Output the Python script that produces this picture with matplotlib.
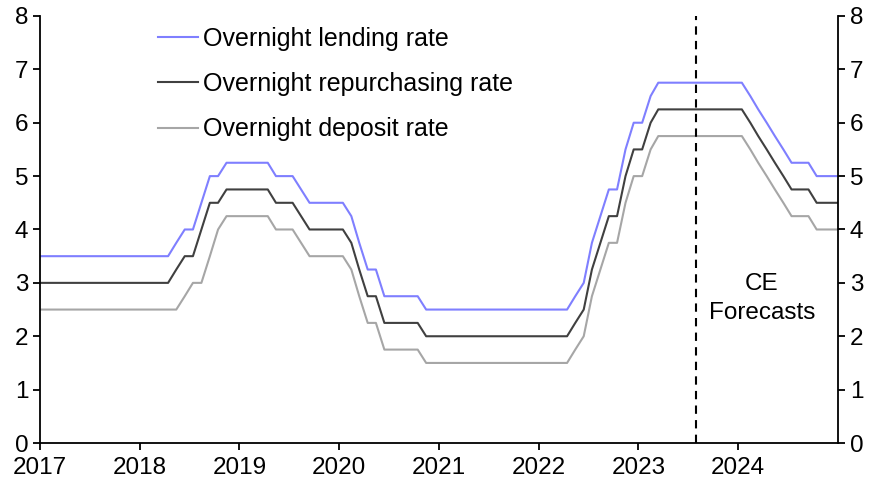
import matplotlib
matplotlib.use("Agg")
import matplotlib.pyplot as plt
import matplotlib.dates as mdates
import pandas as pd

plt.rcParams['font.family'] = ['Liberation Sans', 'DejaVu Sans']

# Monthly values, Dec 2016 .. Jan 2025
repo = [3.0,
        3.0, 3.0, 3.0, 3.0, 3.0, 3.0, 3.0, 3.0, 3.0, 3.0, 3.0, 3.0,            # 2017
        3.0, 3.0, 3.0, 3.0, 3.25, 3.5, 3.5, 4.0, 4.5, 4.5, 4.75, 4.75,         # 2018
        4.75, 4.75, 4.75, 4.75, 4.5, 4.5, 4.5, 4.25, 4.0, 4.0, 4.0, 4.0,       # 2019
        4.0, 3.75, 3.25, 2.75, 2.75, 2.25, 2.25, 2.25, 2.25, 2.25, 2.0, 2.0,   # 2020
        2.0, 2.0, 2.0, 2.0, 2.0, 2.0, 2.0, 2.0, 2.0, 2.0, 2.0, 2.0,            # 2021
        2.0, 2.0, 2.0, 2.0, 2.25, 2.5, 3.25, 3.75, 4.25, 4.25, 5.0, 5.5,       # 2022
        5.5, 6.0, 6.25, 6.25, 6.25, 6.25, 6.25, 6.25, 6.25, 6.25, 6.25, 6.25,  # 2023
        6.25, 6.0, 5.75, 5.5, 5.25, 5.0, 4.75, 4.75, 4.75, 4.5, 4.5, 4.5,      # 2024
        4.5]
lending = [3.5,
           3.5, 3.5, 3.5, 3.5, 3.5, 3.5, 3.5, 3.5, 3.5, 3.5, 3.5, 3.5,
           3.5, 3.5, 3.5, 3.5, 3.75, 4.0, 4.0, 4.5, 5.0, 5.0, 5.25, 5.25,
           5.25, 5.25, 5.25, 5.25, 5.0, 5.0, 5.0, 4.75, 4.5, 4.5, 4.5, 4.5,
           4.5, 4.25, 3.75, 3.25, 3.25, 2.75, 2.75, 2.75, 2.75, 2.75, 2.5, 2.5,
           2.5, 2.5, 2.5, 2.5, 2.5, 2.5, 2.5, 2.5, 2.5, 2.5, 2.5, 2.5,
           2.5, 2.5, 2.5, 2.5, 2.75, 3.0, 3.75, 4.25, 4.75, 4.75, 5.5, 6.0,
           6.0, 6.5, 6.75, 6.75, 6.75, 6.75, 6.75, 6.75, 6.75, 6.75, 6.75, 6.75,
           6.75, 6.5, 6.25, 6.0, 5.75, 5.5, 5.25, 5.25, 5.25, 5.0, 5.0, 5.0,
           5.0]
deposit = [2.5,
           2.5, 2.5, 2.5, 2.5, 2.5, 2.5, 2.5, 2.5, 2.5, 2.5, 2.5, 2.5,
           2.5, 2.5, 2.5, 2.5, 2.5, 2.75, 3.0, 3.0, 3.5, 4.0, 4.25, 4.25,
           4.25, 4.25, 4.25, 4.25, 4.0, 4.0, 4.0, 3.75, 3.5, 3.5, 3.5, 3.5,
           3.5, 3.25, 2.75, 2.25, 2.25, 1.75, 1.75, 1.75, 1.75, 1.75, 1.5, 1.5,
           1.5, 1.5, 1.5, 1.5, 1.5, 1.5, 1.5, 1.5, 1.5, 1.5, 1.5, 1.5,
           1.5, 1.5, 1.5, 1.5, 1.75, 2.0, 2.75, 3.25, 3.75, 3.75, 4.5, 5.0,
           5.0, 5.5, 5.75, 5.75, 5.75, 5.75, 5.75, 5.75, 5.75, 5.75, 5.75, 5.75,
           5.75, 5.5, 5.25, 5.0, 4.75, 4.5, 4.25, 4.25, 4.25, 4.0, 4.0, 4.0,
           4.0]
labels = ["Overnight lending rate", "Overnight repurchasing rate", "Overnight deposit rate"]
colors = ["#7f7fff", "#404040", "#a6a6a6"]
year_ticks = list(range(2017, 2025))
y_ticks = list(range(0, 9))
forecast_start = "2023-08-01"

dates = pd.date_range("2016-12-01", periods=len(repo), freq="MS") + pd.Timedelta(days=14)

fig = plt.figure(figsize=(8.89, 4.99), dpi=100)
ax = fig.add_axes([0.045, 0.1122, 0.8976, 0.8558])

for vals, lab, col in zip([lending, repo, deposit], labels, colors):
    ax.plot(dates, vals, color=col, lw=1.5, label=lab)

ax.axvline(pd.Timestamp(forecast_start), color="black", lw=1.5, ls=(0, (4, 3)))
ax.text(pd.Timestamp("2024-03-28"), 2.7, "CE\nForecasts", ha="center", va="center",
        fontsize=17.5, linespacing=1.4)

ax.set_xlim(pd.Timestamp("2017-01-01"), pd.Timestamp("2025-01-01"))
ax.set_ylim(0, 8)
ax.set_xticks([pd.Timestamp(f"{y}-01-01") for y in year_ticks])
ax.xaxis.set_major_formatter(mdates.DateFormatter("%Y"))
ax.set_yticks(y_ticks)
ax.tick_params(axis="both", labelsize=17.5, length=5, width=1.3, direction="out")
ax.tick_params(axis="y", which="both", right=True, labelright=True)
ax.tick_params(axis="x", pad=5)
for s in ["left", "bottom", "right"]:
    ax.spines[s].set_linewidth(1.3)
ax.spines["top"].set_visible(False)

ax.legend(loc="upper left", bbox_to_anchor=(0.1325, 1.004), frameon=False, fontsize=18,
          handlelength=1.6, handletextpad=0.2, labelspacing=0.85, borderaxespad=0.1)

fig.savefig("out.png", dpi=100)
